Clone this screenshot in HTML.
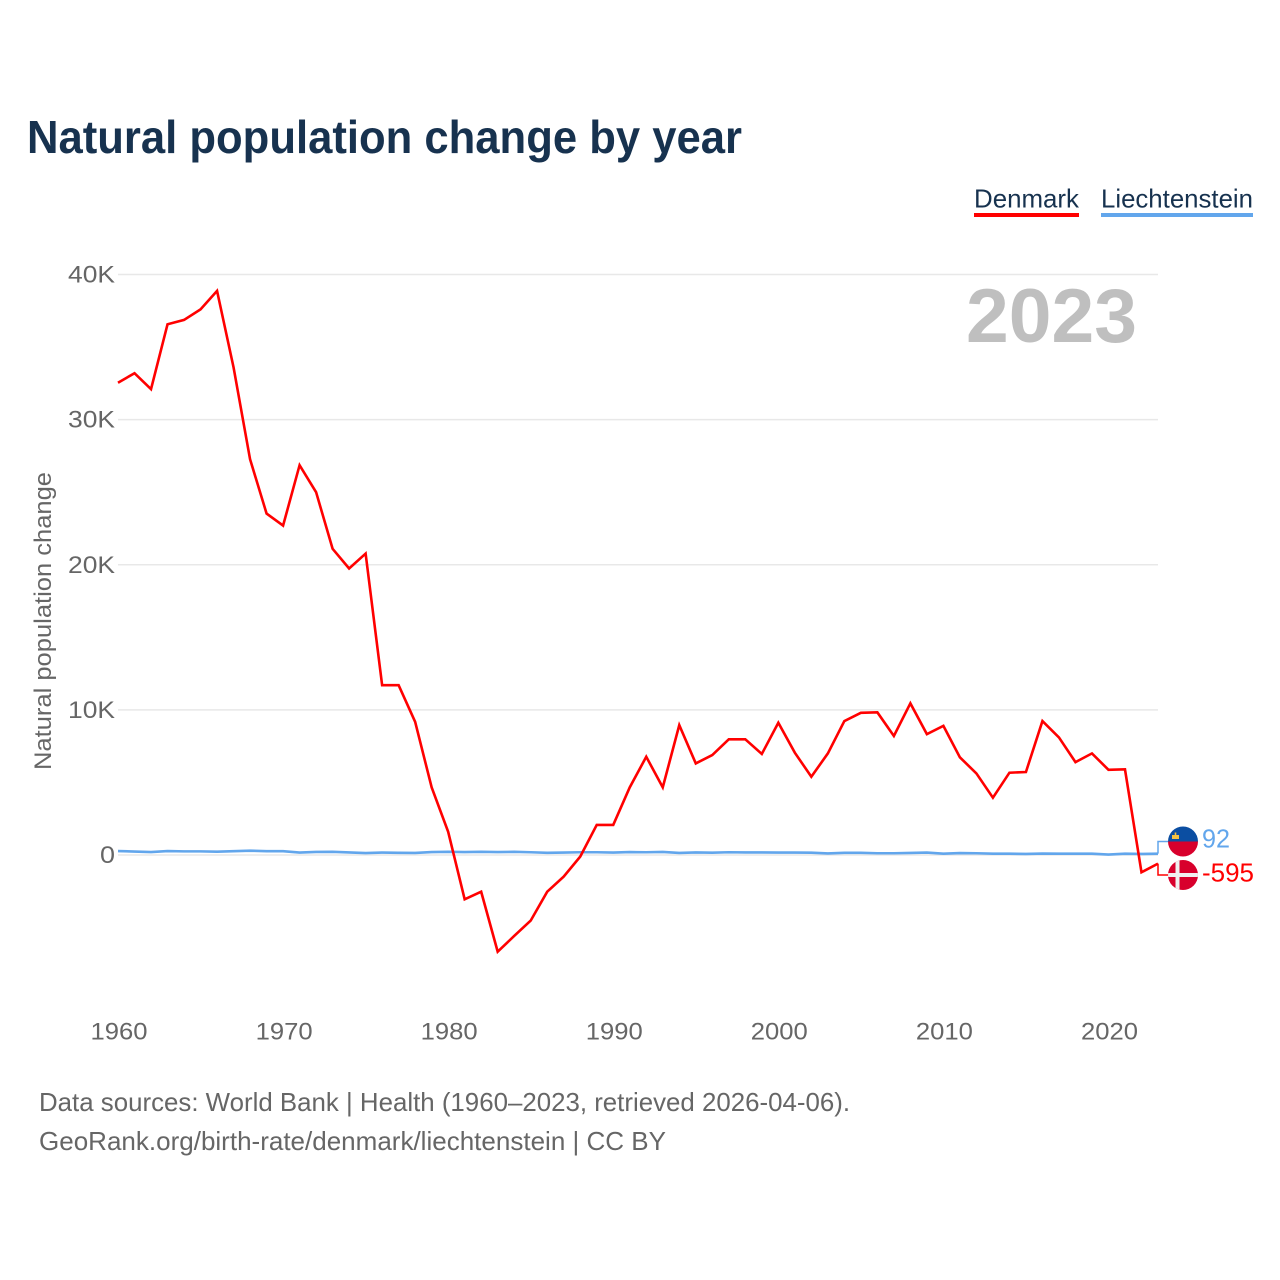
<!DOCTYPE html>
<html lang="en">
<head>
<meta charset="utf-8">
<title>Natural population change by year</title>
<style>
html,body{margin:0;padding:0;background:#fff;}
svg{display:block;}
text{font-family:"Liberation Sans",sans-serif;}
</style>
</head>
<body>
<svg id="chart" xmlns="http://www.w3.org/2000/svg" width="1280" height="1280" viewBox="0 0 1280 1280">
  <defs>
    <clipPath id="clip-li"><circle cx="1183" cy="841.5" r="15"/></clipPath>
    <clipPath id="clip-dk"><circle cx="1183" cy="875" r="15"/></clipPath>
  </defs>
  <rect width="1280" height="1280" fill="#ffffff"/>
  <text x="27" y="153" font-size="46" font-weight="700" fill="#17324f" textLength="715" lengthAdjust="spacingAndGlyphs">Natural population change by year</text>

  <g>
    <g>
      <text x="974" y="207.5" font-size="26" fill="#17324f" textLength="105" lengthAdjust="spacingAndGlyphs">Denmark</text>
      <rect x="974" y="213" width="105" height="4" fill="#ff0000"/>
    </g>
    <g>
      <text x="1101" y="207.5" font-size="26" fill="#17324f" textLength="152" lengthAdjust="spacingAndGlyphs">Liechtenstein</text>
      <rect x="1101" y="213" width="152" height="4" fill="#62a6ec"/>
    </g>
  </g>

  <g id="grid"></g>
  <g id="yticks"></g>
  <g id="xticks"></g>

  <text x="1137" y="342" text-anchor="end" font-size="76" font-weight="700" fill="#bfbfbf" textLength="171" lengthAdjust="spacingAndGlyphs">2023</text>
  <text transform="translate(51 770) rotate(-90)" font-size="24" fill="#666666" textLength="298" lengthAdjust="spacingAndGlyphs">Natural population change</text>

  <g id="series"></g>

  <g>
    <path id="conn-li" fill="none" stroke="#62a6ec" stroke-width="1.5"/>
    <g clip-path="url(#clip-li)">
      <rect x="1168" y="826" width="30" height="15.5" fill="#0b4ea2"/>
      <rect x="1168" y="841.5" width="30" height="16" fill="#d8002c"/>
      <rect x="1172" y="835" width="7" height="4" fill="#f5c242"/>
      <rect x="1174.7" y="832.5" width="1.6" height="3" fill="#f5c242"/>
    </g>
    <text x="1202" y="847.5" font-size="26" fill="#62a6ec" textLength="28" lengthAdjust="spacingAndGlyphs">92</text>
  </g>
  <g>
    <path id="conn-dk" fill="none" stroke="#ff0000" stroke-width="1.5"/>
    <g clip-path="url(#clip-dk)">
      <rect x="1168" y="860" width="30" height="30" fill="#d8002c"/>
      <rect x="1175.5" y="860" width="4" height="30" fill="#f0f0f0"/>
      <rect x="1168" y="873" width="30" height="4" fill="#f0f0f0"/>
    </g>
    <text x="1202" y="881.5" font-size="26" fill="#ff0000" textLength="52" lengthAdjust="spacingAndGlyphs">-595</text>
  </g>

  <g>
    <text x="39" y="1111" font-size="26" fill="#666666" textLength="811" lengthAdjust="spacingAndGlyphs">Data sources: World Bank | Health (1960–2023, retrieved 2026-04-06).</text>
    <text x="39" y="1150" font-size="26" fill="#666666" textLength="627" lengthAdjust="spacingAndGlyphs">GeoRank.org/birth-rate/denmark/liechtenstein | CC BY</text>
  </g>
</svg>
<script>
const startYear = 1960;
const endYear = 2023;
const yTickValues = [0, 10000, 20000, 30000, 40000];
const yTickLabels = ["0", "10K", "20K", "30K", "40K"];
const xTickYears = [1960, 1970, 1980, 1990, 2000, 2010, 2020];
const denmark = [32540,33200,32100,36570,36870,37600,38870,33600,27270,23530,22700,26860,25000,21100,19740,20770,11700,11700,9180,4660,1600,-3050,-2530,-6660,-5580,-4520,-2530,-1490,-110,2070,2070,4660,6770,4660,8950,6310,6890,7970,7970,6960,9110,7050,5390,7000,9230,9800,9830,8200,10450,8330,8900,6730,5620,3950,5670,5720,9230,8100,6400,7000,5870,5900,-1190,-595];
const liechtenstein = [270,240,200,270,250,250,230,260,300,260,260,170,210,220,180,130,170,150,140,200,220,200,220,200,220,190,150,170,190,190,170,200,190,210,140,180,160,190,180,180,170,170,160,110,150,150,120,120,140,170,90,130,120,90,90,70,100,90,90,90,30,90,70,92];

const NS = "http://www.w3.org/2000/svg";
function xScale(year){ return 118 + (year - startYear) * (1040 / (endYear - startYear)); }
function yScale(v){ return 855 - v * (580.5 / 40000); }
function make(tag, attrs){
  const el = document.createElementNS(NS, tag);
  for (const k in attrs) el.setAttribute(k, attrs[k]);
  return el;
}

const grid = document.getElementById("grid");
const yticks = document.getElementById("yticks");
yTickValues.forEach(function(v, i){
  const line = make("line", {x1:118, x2:1158, y1:yScale(v), y2:yScale(v), stroke:"#e8e8e8", "stroke-width":1.5});
  
  
  grid.appendChild(line);
  const label = yTickLabels[i];
  const t = make("text", {x:115, y:yScale(v)+8, "text-anchor":"end", "font-size":24, fill:"#666666", textLength: label.length === 1 ? 15 : 47, lengthAdjust:"spacingAndGlyphs"});
  
  
  t.textContent = label;
  yticks.appendChild(t);
});

const xticks = document.getElementById("xticks");
xTickYears.forEach(function(yr){
  const t = make("text", {x:xScale(yr)+1, y:1039.5, "text-anchor":"middle", "font-size":24, fill:"#666666", textLength:57, lengthAdjust:"spacingAndGlyphs"});
  
  
  t.textContent = String(yr);
  xticks.appendChild(t);
});

function pointsFor(arr){
  return arr.map(function(v, i){ return xScale(startYear + i).toFixed(2) + "," + yScale(v).toFixed(2); }).join(" ");
}
const series = document.getElementById("series");
const lineLi = make("polyline", {points:pointsFor(liechtenstein), fill:"none", stroke:"#62a6ec", "stroke-width":2.6, "stroke-linejoin":"miter"});


series.appendChild(lineLi);
const lineDk = make("polyline", {points:pointsFor(denmark), fill:"none", stroke:"#ff0000", "stroke-width":2.6, "stroke-linejoin":"miter"});


series.appendChild(lineDk);

const endX = xScale(endYear);
document.getElementById("conn-li").setAttribute("d", "M" + endX + " " + yScale(liechtenstein[liechtenstein.length-1]) + "V841.5H1168");
document.getElementById("conn-dk").setAttribute("d", "M" + endX + " " + yScale(denmark[denmark.length-1]) + "V875H1168");
</script>
</body>
</html>
